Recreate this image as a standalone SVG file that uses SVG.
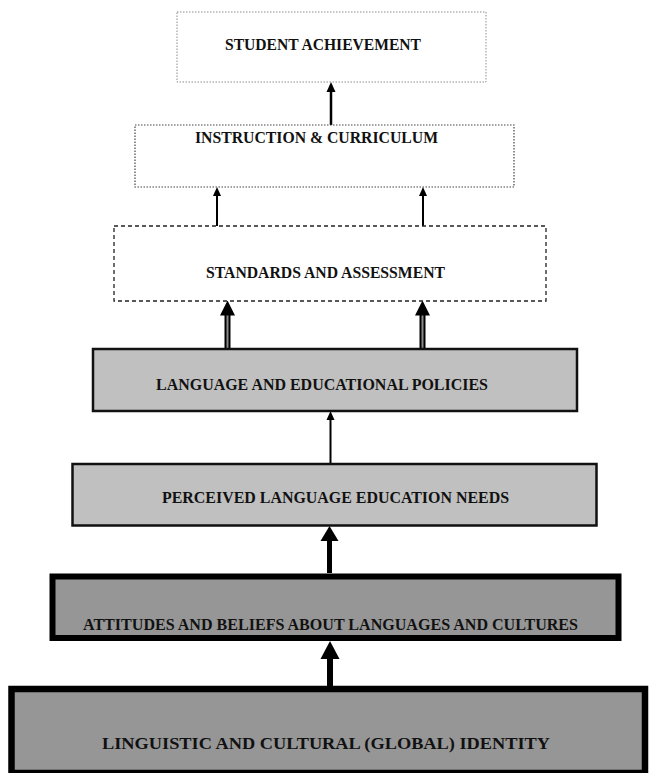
<svg xmlns="http://www.w3.org/2000/svg" xmlns:xlink="http://www.w3.org/1999/xlink" width="649" height="773" viewBox="0 0 649 773">
<style>
  .lbl { font-family: "Liberation Serif", "Times New Roman", serif; font-weight: bold; fill: #111; font-size: 16px; }
  .light { fill: #c0c0c0; stroke: #111; stroke-width: 2.5; }
  .dark { fill: #969696; stroke: #000; }
  .shaft { stroke: #000; fill: none; }
  .head { fill: #000; }
</style>
<defs>
  <path id="hS" d="M0,0 L-4,9 L4,9 Z"/>
  <path id="hM" d="M0,0 L-4.5,10 L4.5,10 Z"/>
  <path id="hD" d="M0,0 L-7.5,15 L7.5,15 Z"/>
  <path id="hB" d="M0,0 L-9,15 L9,15 Z"/>
  <path id="hB2" d="M0,0 L-9.5,18 L9.5,18 Z"/>
</defs>
<rect width="649" height="773" fill="#fff"/>

<g id="connectors">
  <line class="shaft" x1="331" y1="125" x2="331" y2="90" stroke-width="2.5"/>
  <use href="#hM" class="head" x="331" y="82"/>

  <line class="shaft" x1="217" y1="226" x2="217" y2="194" stroke-width="2"/>
  <use href="#hS" class="head" x="217" y="187"/>
  <line class="shaft" x1="423" y1="226" x2="423" y2="194" stroke-width="2"/>
  <use href="#hS" class="head" x="423" y="187"/>

  <line class="shaft" x1="227.5" y1="348" x2="227.5" y2="314" stroke-width="6"/>
  <line x1="227.5" y1="348" x2="227.5" y2="314" stroke="#8a8a8a" stroke-width="2"/>
  <use href="#hD" class="head" x="227.5" y="300.5"/>
  <line class="shaft" x1="422.5" y1="348" x2="422.5" y2="314" stroke-width="6"/>
  <line x1="422.5" y1="348" x2="422.5" y2="314" stroke="#8a8a8a" stroke-width="2"/>
  <use href="#hD" class="head" x="422.5" y="300.5"/>

  <line class="shaft" x1="330.5" y1="463" x2="330.5" y2="418" stroke-width="2"/>
  <use href="#hS" class="head" x="330.5" y="411"/>

  <line class="shaft" x1="329.5" y1="573" x2="329.5" y2="539" stroke-width="5"/>
  <use href="#hB" class="head" x="329.5" y="526"/>

  <line class="shaft" x1="330" y1="686" x2="330" y2="657" stroke-width="6"/>
  <use href="#hB2" class="head" x="330" y="641"/>
</g>

<g id="student-achievement">
  <rect x="177" y="12" width="309" height="70" fill="#fff" stroke="#8c8c8c" stroke-width="1" stroke-dasharray="1.5 1.5"/>
  <text class="lbl" x="225" y="50" font-size="15" textLength="196" lengthAdjust="spacingAndGlyphs">STUDENT ACHIEVEMENT</text>
</g>

<g id="instruction-curriculum">
  <rect x="135" y="125" width="379" height="62" fill="#fff" stroke="#444" stroke-width="1.2" stroke-dasharray="1.5 1.5"/>
  <text class="lbl" x="195" y="143" textLength="243" lengthAdjust="spacingAndGlyphs">INSTRUCTION &amp; CURRICULUM</text>
</g>

<g id="standards-assessment">
  <rect x="114" y="226" width="432" height="75" fill="#fff" stroke="#222" stroke-width="1.3" stroke-dasharray="4 3"/>
  <text class="lbl" x="206" y="278" font-size="15.5" textLength="239" lengthAdjust="spacingAndGlyphs">STANDARDS AND ASSESSMENT</text>
</g>

<g id="language-educational-policies">
  <rect class="light" x="93" y="349" width="484" height="62"/>
  <text class="lbl" x="156" y="389.5" textLength="332" lengthAdjust="spacingAndGlyphs">LANGUAGE AND EDUCATIONAL POLICIES</text>
</g>

<g id="perceived-needs">
  <rect class="light" x="72.5" y="464" width="524" height="61.5"/>
  <text class="lbl" x="162" y="502.5" textLength="347" lengthAdjust="spacingAndGlyphs">PERCEIVED LANGUAGE EDUCATION NEEDS</text>
</g>

<g id="attitudes-beliefs">
  <rect class="dark" x="52.5" y="576.5" width="566" height="61.5" stroke-width="6"/>
  <text class="lbl" x="83" y="630" textLength="495" lengthAdjust="spacingAndGlyphs">ATTITUDES AND BELIEFS ABOUT LANGUAGES AND CULTURES</text>
</g>

<g id="identity">
  <rect class="dark" x="11.5" y="689" width="633.5" height="84" stroke-width="6.5"/>
  <text class="lbl" x="102" y="749" font-size="18" textLength="448" lengthAdjust="spacingAndGlyphs">LINGUISTIC AND CULTURAL (GLOBAL) IDENTITY</text>
</g>
</svg>
